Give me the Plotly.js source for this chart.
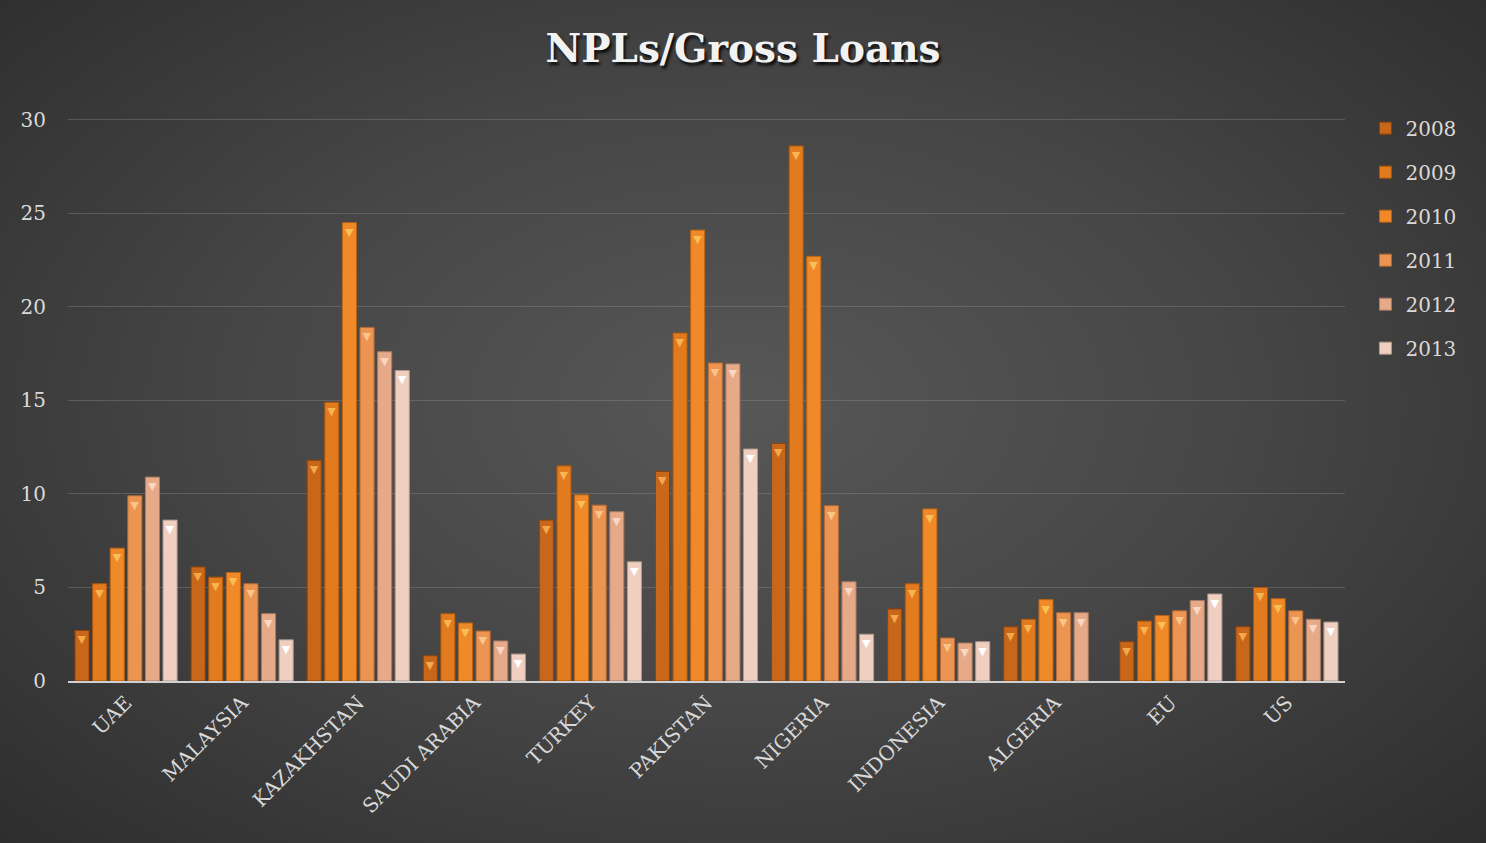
<!DOCTYPE html>
<html>
<head>
<meta charset="utf-8">
<script src="https://cdn.plot.ly/plotly-3.0.1.min.js"></script>
<style>
  html, body { margin: 0; padding: 0; }
  #chart {
    width: 1486px; height: 843px;
    background: radial-gradient(ellipse 75% 80% at 50% 48%, #575757 0%, #464646 45%, #2a2a2a 100%);
  }
</style>
</head>
<body>
<div id="chart"></div>
<script>
const countries = ["UAE", "MALAYSIA", "KAZAKHSTAN", "SAUDI ARABIA", "TURKEY", "PAKISTAN", "NIGERIA", "INDONESIA", "ALGERIA", "EU", "US"];
const years = ["2008", "2009", "2010", "2011", "2012", "2013"];

const v2008 = [2.7, 6.1, 11.8, 1.35, 8.6, 11.2, 12.7, 3.85, 2.9, 2.1, 2.9];
const v2009 = [5.2, 5.55, 14.9, 3.6, 11.5, 18.6, 28.6, 5.2, 3.3, 3.2, 5.0];
const v2010 = [7.1, 5.8, 24.5, 3.1, 9.95, 24.1, 22.7, 9.2, 4.35, 3.5, 4.4];
const v2011 = [9.9, 5.2, 18.9, 2.67, 9.4, 17.0, 9.37, 2.3, 3.65, 3.75, 3.75];
const v2012 = [10.9, 3.6, 17.6, 2.14, 9.05, 16.95, 5.3, 2.03, 3.65, 4.3, 3.3];
const v2013 = [8.6, 2.2, 16.6, 1.44, 6.37, 12.4, 2.5, 2.1, null, 4.65, 3.15];

const seriesValues = [v2008, v2009, v2010, v2011, v2012, v2013];
const barColors = ["#c8661a", "#e27a1e", "#f08a28", "#ec9452", "#e6aa88", "#f0cfc0"];
const lineColors = ["#8f4208", "#a9560c", "#b86412", "#b36a36", "#a87a62", "#b09a8e"];
const capColors = ["#f5a84a", "#f8b452", "#fbbf5a", "#fbc489", "#fbd6c2", "#ffffff"];

const traces = seriesValues.map((vals, i) => ({
  type: "bar",
  name: years[i],
  x: countries,
  y: vals,
  legendgroup: years[i],
  marker: { color: barColors[i], line: { color: lineColors[i], width: 1 } },
  texttemplate: "▼",
  textposition: "inside",
  insidetextanchor: "end",
  textangle: 0,
  constraintext: "none",
  cliponaxis: false,
  insidetextfont: { family: "DejaVu Sans", size: 11, color: capColors[i] },
  hoverinfo: "x+y+name"
}));

const layout = {
  width: 1486, height: 843,
  paper_bgcolor: "rgba(0,0,0,0)",
  plot_bgcolor: "rgba(0,0,0,0)",
  margin: { l: 68, r: 141, t: 116, b: 162 },
  barmode: "group",
  bargap: 0.09,
  bargroupgap: 0.2,
  title: {
    text: "NPLs/Gross Loans",
    x: 0.5, xref: "container", xanchor: "center",
    y: 0.943, yref: "container", yanchor: "middle",
    font: { family: "DejaVu Serif", size: 39, color: "#f2f2f2", weight: "bold",
            shadow: "2px 3px 3px rgba(0,0,0,0.85)" }
  },
  xaxis: {
    type: "category",
    tickangle: -45,
    tickfont: { family: "DejaVu Serif", size: 20, color: "#d9d9d9" },
    showgrid: false,
    showline: true, linecolor: "#d0d0d0", linewidth: 2,
    ticks: "", zeroline: false
  },
  yaxis: {
    range: [0, 30.2],
    tickvals: [0, 5, 10, 15, 20, 25, 30],
    tickfont: { family: "DejaVu Serif", size: 20, color: "#d9d9d9" },
    gridcolor: "rgba(150,150,150,0.35)", gridwidth: 1,
    zeroline: false, showline: false,
    ticklabelstandoff: 21
  },
  legend: {
    x: 1.016, xanchor: "left",
    y: 1.013, yanchor: "top",
    font: { family: "DejaVu Serif", size: 20, color: "#d9d9d9" },
    bgcolor: "rgba(0,0,0,0)",
    tracegroupgap: 15,
    traceorder: "grouped",
    itemwidth: 30
  },
  showlegend: true
};

Plotly.newPlot("chart", traces, layout, { displayModeBar: false, staticPlot: true });
</script>
</body>
</html>
